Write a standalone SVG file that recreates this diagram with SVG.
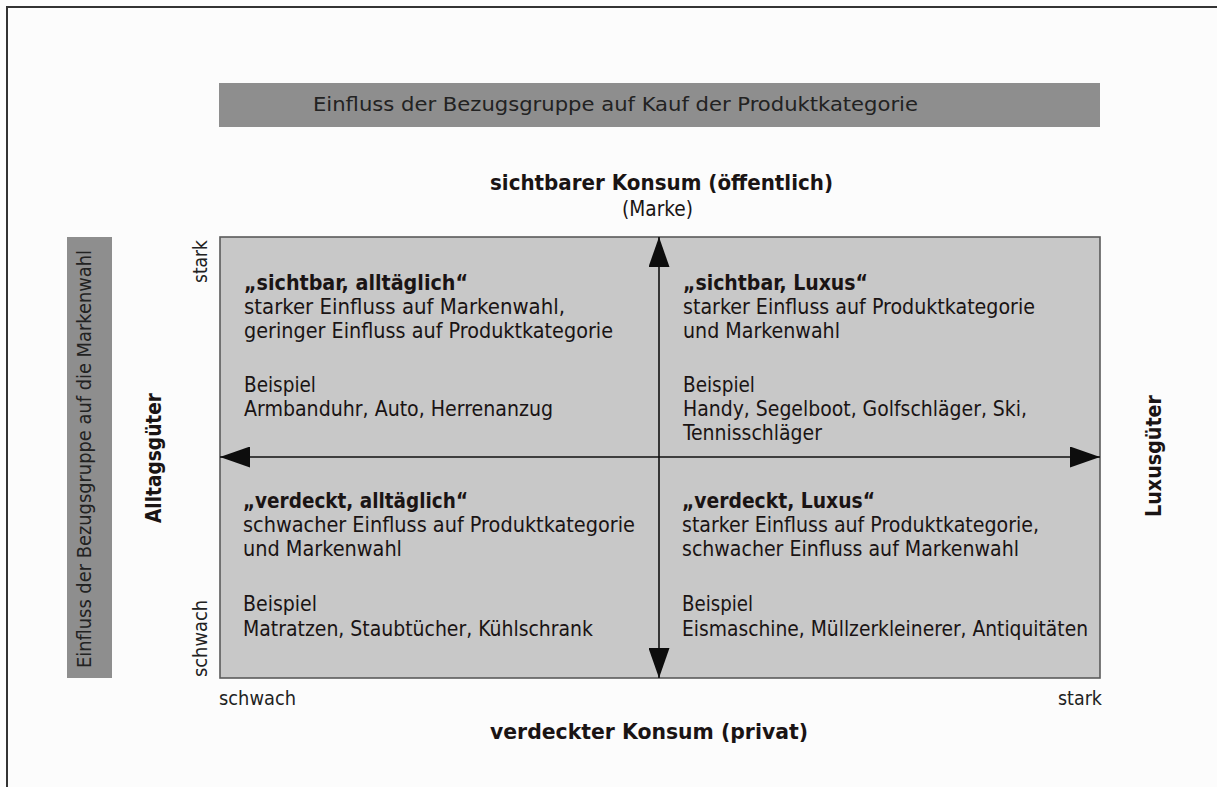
<svg xmlns="http://www.w3.org/2000/svg" width="1217" height="787" viewBox="0 0 1217 787">
  <style>
    text { font-family: "DejaVu Sans Condensed", "DejaVu Sans", "Liberation Sans", sans-serif; fill: #1a1414; }
    .body { font-size: 21px; }
    .bold { font-size: 21px; font-weight: bold; }
    .axis { font-size: 19.5px; fill: #222; }
    .banner { fill: #8e8e8e; }
    .axisline { stroke: #111; stroke-width: 1.6; fill: none; }
  </style>
  <defs>
    <marker id="head" viewBox="0 0 30 21" refX="30" refY="10.5" markerWidth="30" markerHeight="21" markerUnits="userSpaceOnUse" orient="auto">
      <path d="M0,0 L30,10.5 L0,21 Z" fill="#0d0d0d"/>
    </marker>
  </defs>

  <!-- page -->
  <rect x="0" y="0" width="1217" height="787" fill="#fcfcfc"/>
  <rect x="7" y="7" width="1230" height="800" fill="none" stroke="#333" stroke-width="2"/>

  <!-- top banner -->
  <g id="banner-top">
    <rect class="banner" x="219" y="83" width="881" height="44"/>
    <text class="axis" x="313" y="111" textLength="605" lengthAdjust="spacingAndGlyphs">Einfluss der Bezugsgruppe auf Kauf der Produktkategorie</text>
  </g>

  <!-- left banner -->
  <g id="banner-left">
    <rect class="banner" x="67" y="237" width="45" height="441"/>
    <text class="axis" transform="translate(91,668) rotate(-90)" x="0" y="0" textLength="418" lengthAdjust="spacingAndGlyphs">Einfluss der Bezugsgruppe auf die Markenwahl</text>
  </g>

  <!-- axis titles -->
  <g id="title-top">
    <text class="bold" x="490" y="190" textLength="343" lengthAdjust="spacingAndGlyphs">sichtbarer Konsum (öffentlich)</text>
    <text class="body" x="622" y="216" textLength="71" lengthAdjust="spacingAndGlyphs">(Marke)</text>
  </g>
  <g id="title-bottom">
    <text class="bold" x="490" y="739" textLength="318" lengthAdjust="spacingAndGlyphs">verdeckter Konsum (privat)</text>
  </g>
  <g id="title-left">
    <text class="bold" transform="translate(161,523) rotate(-90)" x="0" y="0" textLength="130" lengthAdjust="spacingAndGlyphs">Alltagsgüter</text>
  </g>
  <g id="title-right">
    <text class="bold" transform="translate(1161,517) rotate(-90)" x="0" y="0" textLength="122" lengthAdjust="spacingAndGlyphs">Luxusgüter</text>
  </g>

  <!-- scale labels -->
  <g id="scale">
    <text class="axis" transform="translate(207,283) rotate(-90)" textLength="43" lengthAdjust="spacingAndGlyphs">stark</text>
    <text class="axis" transform="translate(207,677) rotate(-90)" textLength="77" lengthAdjust="spacingAndGlyphs">schwach</text>
    <text class="axis" x="219" y="705" textLength="77" lengthAdjust="spacingAndGlyphs">schwach</text>
    <text class="axis" x="1058" y="705" textLength="44" lengthAdjust="spacingAndGlyphs">stark</text>
  </g>

  <!-- matrix field -->
  <g id="matrix">
    <rect x="220" y="237" width="880" height="441" fill="#c8c8c8" stroke="#5a5a5a" stroke-width="1.6"/>
  </g>

  <!-- axes -->
  <g id="connectors">
    <line class="axisline" x1="659" y1="457" x2="659" y2="237" marker-end="url(#head)"/>
    <line class="axisline" x1="659" y1="457" x2="659" y2="678" marker-end="url(#head)"/>
    <line class="axisline" x1="659" y1="457" x2="220" y2="457" marker-end="url(#head)"/>
    <line class="axisline" x1="659" y1="457" x2="1100" y2="457" marker-end="url(#head)"/>
  </g>

  <!-- quadrant: visible, everyday -->
  <g id="q-sichtbar-alltaeglich">
    <text class="bold" x="244" y="290" textLength="224" lengthAdjust="spacingAndGlyphs">„sichtbar, alltäglich“</text>
    <text class="body" x="244" y="314" textLength="321" lengthAdjust="spacingAndGlyphs">starker Einfluss auf Markenwahl,</text>
    <text class="body" x="244" y="338" textLength="369" lengthAdjust="spacingAndGlyphs">geringer Einfluss auf Produktkategorie</text>
    <text class="body" x="244" y="392" textLength="72" lengthAdjust="spacingAndGlyphs">Beispiel</text>
    <text class="body" x="244" y="416" textLength="309" lengthAdjust="spacingAndGlyphs">Armbanduhr, Auto, Herrenanzug</text>
  </g>

  <!-- quadrant: visible, luxury -->
  <g id="q-sichtbar-luxus">
    <text class="bold" x="683" y="290" textLength="185" lengthAdjust="spacingAndGlyphs">„sichtbar, Luxus“</text>
    <text class="body" x="683" y="314" textLength="352" lengthAdjust="spacingAndGlyphs">starker Einfluss auf Produktkategorie</text>
    <text class="body" x="683" y="338" textLength="157" lengthAdjust="spacingAndGlyphs">und Markenwahl</text>
    <text class="body" x="683" y="392" textLength="72" lengthAdjust="spacingAndGlyphs">Beispiel</text>
    <text class="body" x="683" y="416" textLength="344" lengthAdjust="spacingAndGlyphs">Handy, Segelboot, Golfschläger, Ski,</text>
    <text class="body" x="683" y="440" textLength="139" lengthAdjust="spacingAndGlyphs">Tennisschläger</text>
  </g>

  <!-- quadrant: hidden, everyday -->
  <g id="q-verdeckt-alltaeglich">
    <text class="bold" x="243" y="508" textLength="225" lengthAdjust="spacingAndGlyphs">„verdeckt, alltäglich“</text>
    <text class="body" x="243" y="532" textLength="392" lengthAdjust="spacingAndGlyphs">schwacher Einfluss auf Produktkategorie</text>
    <text class="body" x="243" y="556" textLength="159" lengthAdjust="spacingAndGlyphs">und Markenwahl</text>
    <text class="body" x="243" y="611" textLength="74" lengthAdjust="spacingAndGlyphs">Beispiel</text>
    <text class="body" x="243" y="636" textLength="350" lengthAdjust="spacingAndGlyphs">Matratzen, Staubtücher, Kühlschrank</text>
  </g>

  <!-- quadrant: hidden, luxury -->
  <g id="q-verdeckt-luxus">
    <text class="bold" x="682" y="508" textLength="193" lengthAdjust="spacingAndGlyphs">„verdeckt, Luxus“</text>
    <text class="body" x="682" y="532" textLength="357" lengthAdjust="spacingAndGlyphs">starker Einfluss auf Produktkategorie,</text>
    <text class="body" x="682" y="556" textLength="337" lengthAdjust="spacingAndGlyphs">schwacher Einfluss auf Markenwahl</text>
    <text class="body" x="682" y="611" textLength="71" lengthAdjust="spacingAndGlyphs">Beispiel</text>
    <text class="body" x="682" y="636" textLength="406" lengthAdjust="spacingAndGlyphs">Eismaschine, Müllzerkleinerer, Antiquitäten</text>
  </g>
</svg>
